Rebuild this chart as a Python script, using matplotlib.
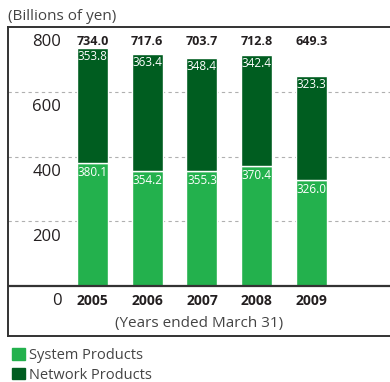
import numpy as np
import matplotlib.pyplot as plt

plt.rcParams['font.family'] = ['Open Sans', 'DejaVu Sans']

years = ['2005', '2006', '2007', '2008', '2009']
system_products = [380.1, 354.2, 355.3, 370.4, 326.0]
network_products = [353.8, 363.4, 348.4, 342.4, 323.3]
totals = [734.0, 717.6, 703.7, 712.8, 649.3]
y_ticks = [0, 200, 400, 600, 800]

light_green = '#23b14d'
dark_green = '#005d20'
text_dark = '#231f20'

fig = plt.figure(figsize=(3.9, 3.82), dpi=100)
ax = fig.add_axes([8 / 390, 46 / 382, 382 / 390, 309 / 382])

x = np.arange(len(years))
w = 0.566
ax.bar(x, system_products, w, color=light_green, edgecolor='white', linewidth=1, zorder=3)
ax.bar(x, network_products, w, bottom=system_products, color=dark_green,
       edgecolor='white', linewidth=1, zorder=3)

ax.set_xlim(-1.543, 5.434)
ax.set_ylim(-154.4, 800)

# dashed grid lines
for v in y_ticks[1:-1]:
    ax.axhline(v, color='#b0b0b0', lw=0.8, ls=(0, (3, 3)), zorder=1)
ax.axhline(0, color='#333333', lw=1.6, zorder=4)

ax.set_xticks([])
ax.set_yticks([])
for s in ['top', 'left', 'bottom']:
    ax.spines[s].set_color('#333333')
    ax.spines[s].set_linewidth(1.4)
ax.spines['right'].set_visible(False)

# y labels sit below their lines
for v in y_ticks:
    ax.annotate(str(v), xy=(-0.57, v), xytext=(0, -11), textcoords='offset points',
                ha='right', va='center', fontsize=12, color=text_dark)

for i in range(len(years)):
    ax.annotate(years[i], xy=(x[i], 0), xytext=(0, -10.5), textcoords='offset points',
                ha='center', va='center', fontsize=10, fontweight='bold', color=text_dark)
    ax.annotate(f'{totals[i]:.1f}', xy=(x[i], 800), xytext=(0, -10.5), textcoords='offset points',
                ha='center', va='center', fontsize=9, fontweight='bold', color=text_dark)
    ax.annotate(f'{network_products[i]:.1f}', xy=(x[i], totals[i]), xytext=(0, -1.5),
                textcoords='offset points', ha='center', va='top', fontsize=8.5, color='white', zorder=5)
    ax.annotate(f'{system_products[i]:.1f}', xy=(x[i], system_products[i]), xytext=(0, -2),
                textcoords='offset points', ha='center', va='top', fontsize=8.5, color='white', zorder=5)

ax.text(0.5, -115, '(Years ended March 31)', transform=ax.get_yaxis_transform(),
        ha='center', va='center', fontsize=11, color='#444444')
fig.text(8 / 390, 1 - 17 / 382, '(Billions of yen)', ha='left', va='center',
         fontsize=11, color='#444444')

handles = [plt.Rectangle((0, 0), 1, 1, color=light_green),
           plt.Rectangle((0, 0), 1, 1, color=dark_green)]
fig.legend(handles, ['System Products', 'Network Products'], loc='upper left',
           bbox_to_anchor=(2 / 390, 1 - 338 / 382), frameon=False, fontsize=10.5,
           handlelength=0.85, handleheight=0.85, handletextpad=0.3, labelspacing=0.3,
           borderpad=0.2, labelcolor='#444444')

fig.savefig('out.png', dpi=100)
